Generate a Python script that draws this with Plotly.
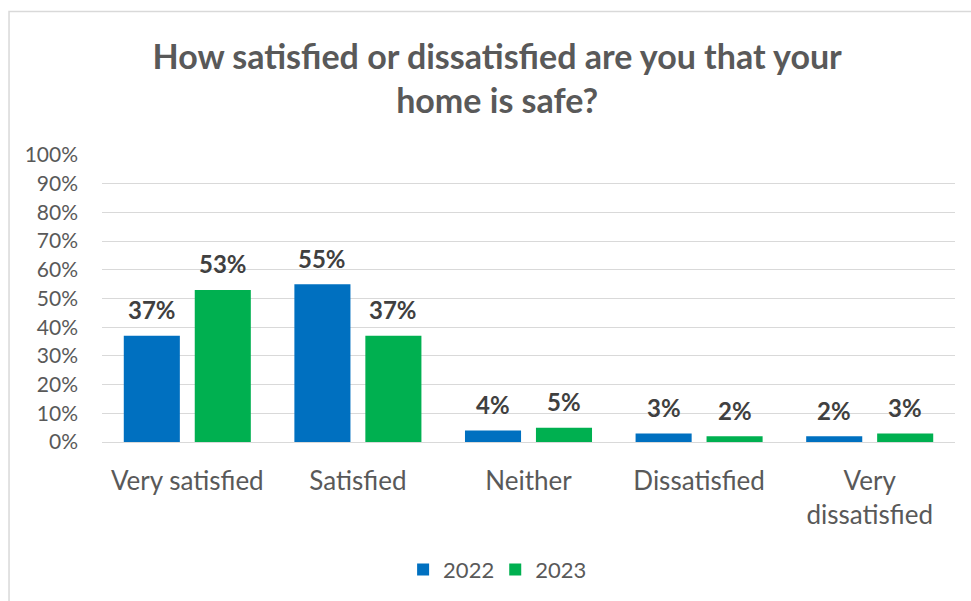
import plotly.graph_objects as go

# Survey responses: share of tenants by satisfaction level
categories = ["Very satisfied", "Satisfied", "Neither", "Dissatisfied", "Very<br>dissatisfied"]
years = ["2022", "2023"]
share_2022 = [0.37, 0.55, 0.04, 0.03, 0.02]
share_2023 = [0.53, 0.37, 0.05, 0.02, 0.03]
colors = {"2022": "#0070C0", "2023": "#00B050"}

FONT = "Lato, 'Open Sans', sans-serif"
SLOT_PX = 71  # pixel width of one bar slot inside a category group
legend_refs = ["legend", "legend2"]
legend_x = [0.353, 0.461]

fig = go.Figure()
series = list(zip(years, [share_2022, share_2023]))
for (year, values), lref in zip(series, legend_refs):
    fig.add_trace(go.Bar(
        x=categories,
        y=values,
        name=year,
        legend=lref,
        marker=dict(color=colors[year], line=dict(width=0)),
    ))

# Value labels above each bar, offset to sit over its own bar in the group
for i, (year, values) in enumerate(series):
    shift = (i - (len(series) - 1) / 2) * SLOT_PX
    for cat, v in zip(categories, values):
        fig.add_annotation(
            x=cat, y=v, xref="x", yref="y",
            text=f"{v:.0%}",
            showarrow=False,
            xshift=shift, yshift=26,
            yanchor="middle",
            font=dict(family=FONT, size=24, color="#404040", weight="bold"),
        )

legend_style = dict(
    orientation="h",
    xanchor="left",
    y=-0.44,
    yanchor="middle",
    font=dict(family=FONT, size=22, color="#595959"),
    itemwidth=30,
    bgcolor="rgba(0,0,0,0)",
)

fig.update_layout(
    width=971,
    height=601,
    margin=dict(l=102, r=16, t=155, b=158),
    paper_bgcolor="white",
    plot_bgcolor="white",
    barmode="group",
    bargap=0.168,
    bargroupgap=0.21,
    font=dict(family=FONT, color="#595959"),
    title=dict(
        text="How satisfied or dissatisfied are you that your<br>home is safe?",
        x=0.512,
        xanchor="center",
        y=0.886,
        yanchor="top",
        font=dict(family=FONT, size=34, color="#595959", weight="bold"),
    ),
    showlegend=True,
    legend=dict(x=legend_x[0], **legend_style),
    legend2=dict(x=legend_x[1], **legend_style),
)

fig.update_yaxes(
    range=[0, 1],
    dtick=0.1,
    tickformat=".0%",
    showgrid=True,
    gridcolor="#D9D9D9",
    gridwidth=1.3,
    zeroline=False,
    showline=False,
    ticks="",
    ticklabelstandoff=23,
    tickfont=dict(family=FONT, size=21, color="#595959"),
)

fig.update_xaxes(
    showline=True,
    linecolor="#D9D9D9",
    linewidth=1.3,
    ticks="",
    ticklabelstandoff=16,
    tickfont=dict(family=FONT, size=26, color="#595959"),
)

# Chart frame
fig.add_shape(
    type="rect",
    xref="paper", yref="paper",
    x0=-0.109, x1=1.2, y0=-1.0, y1=1.5,
    line=dict(color="#D9D9D9", width=1.5),
    fillcolor="rgba(0,0,0,0)",
    layer="below",
)

fig.write_html("out.html")
